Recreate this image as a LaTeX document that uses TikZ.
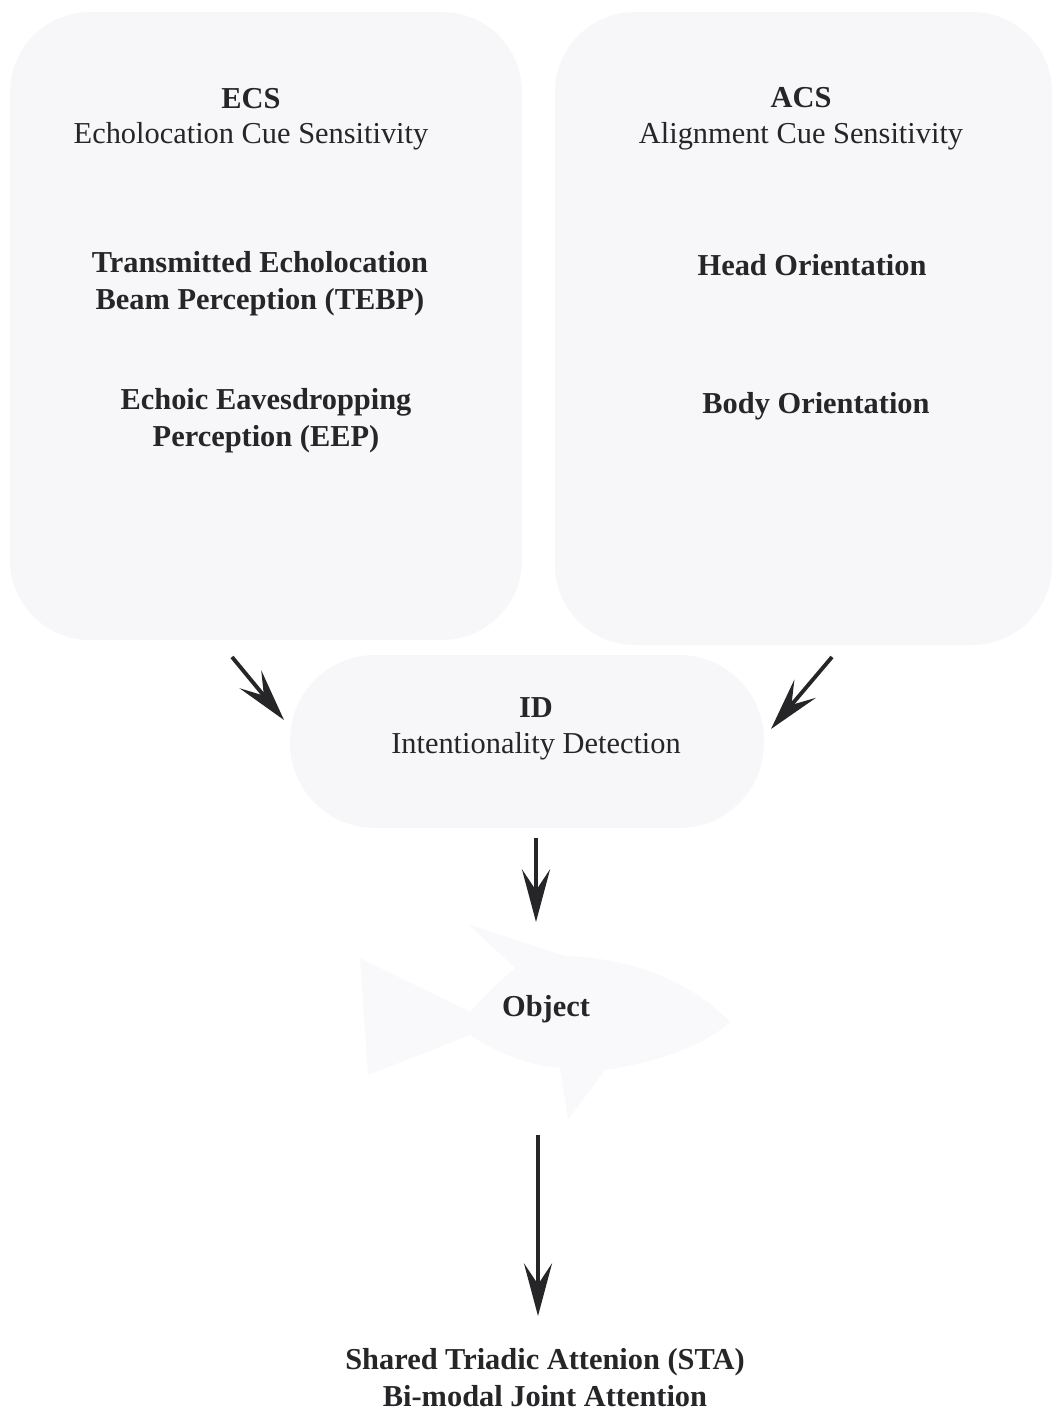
\documentclass[tikz,border=0pt]{standalone}
\usepackage{fontspec}
\setmainfont{Liberation Serif}
\usepackage{xcolor}
\usetikzlibrary{positioning,arrows.meta}
\definecolor{panelfill}{RGB}{247,247,250}
\definecolor{fishfill}{RGB}{249,249,251}
\definecolor{inktext}{RGB}{38,38,40}

\begin{document}
\begin{tikzpicture}[x=0.02cm, y=-0.02cm,
  panel/.style={fill=panelfill},
  lbl/.style={font=\fontsize{17.3}{21}\selectfont, text=inktext, align=center, inner sep=0pt},
  lblb/.style={lbl, font=\fontsize{17.3}{21}\selectfont\bfseries},
  flow/.style={draw=inktext, line width=2.2pt,
    -{Stealth[length=30pt, width=16pt, inset=12pt]}}]
% Page frame, same proportions as the scan (1061 x 1415)
\useasboundingbox (0,0) rectangle (1061,1415);
% Faint background panels
\fill[panel, rounded corners=1.6cm] (10,12) rectangle (522,640);
\fill[panel, rounded corners=1.6cm] (555,12) rectangle (1052,645);
\fill[panel, rounded corners=1.7cm] (290,655) rectangle (764,828);
% Faint fish behind "Object"
\fill[fishfill]
  (730,1022) .. controls (690,980) and (630,958) .. (565,956)
  -- (468,924) -- (515,968)
  .. controls (495,985) and (480,1000) .. (470,1012)
  -- (360,958) -- (368,1075) -- (470,1035)
  .. controls (500,1055) and (530,1065) .. (560,1068)
  -- (568,1120) -- (605,1070)
  .. controls (660,1062) and (705,1045) .. cycle;
% Left column: echolocation cues
\node[lblb] (ecs) at (251,99) {ECS};
\node[lbl]  (ecsname) at (251,136) {Echolocation Cue Sensitivity};
\node[lblb] (tebp) at (260,284) {Transmitted Echolocation\\Beam Perception (TEBP)};
\node[lblb] (eep) at (266,421) {Echoic Eavesdropping\\Perception (EEP)};
% Right column: alignment cues
\node[lblb] (acs) at (801,98) {ACS};
\node[lbl]  (acsname) at (801,136) {Alignment Cue Sensitivity};
\node[lblb] (head) at (812,265) {Head Orientation};
\node[lblb] (body) at (816,406) {Body Orientation};
% Middle chain
\node[lblb] (id) at (536,708) {ID};
\node[lbl]  (idname) at (536,746) {Intentionality Detection};
\node[lblb] (object) at (546,1009) {Object};
\node[lblb] (sta) at (545,1378) {Shared Triadic Attenion (STA)\\Bi-modal Joint Attention};
% Arrow ends
\coordinate (ecsout) at (232,657);
\coordinate (idinl) at (284,720);
\coordinate (acsout) at (832,657);
\coordinate (idinr) at (771,729);
\coordinate (idout) at (536,838);
\coordinate (objin) at (536,922);
\coordinate (objout) at (538,1135);
\coordinate (stain) at (538,1316);
\draw[flow] (ecsout) -- (idinl);
\draw[flow] (acsout) -- (idinr);
\draw[flow] (idout) -- (objin);
\draw[flow] (objout) -- (stain);
\end{tikzpicture}
\end{document}
